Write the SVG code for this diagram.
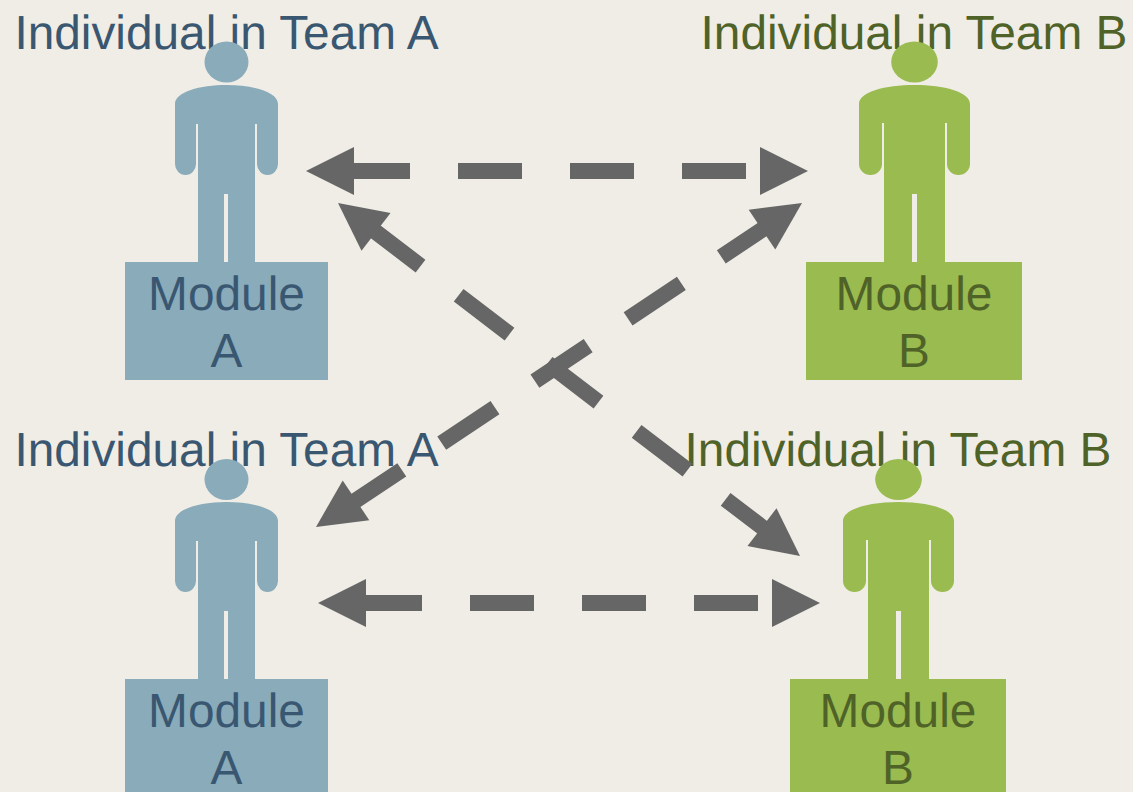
<svg xmlns="http://www.w3.org/2000/svg" width="1133" height="792" viewBox="0 0 1133 792">
<style>
text{font-family:"Liberation Sans",Arial,sans-serif;font-size:47.8px;text-anchor:middle;text-rendering:geometricPrecision;opacity:.999}
.b{fill:#89abba}.g{fill:#9abb4f}
.tb{fill:#3a5771}.tg{fill:#4f6228}
.s{fill:none;stroke:#666;stroke-width:16;stroke-dasharray:64 48}
.h{fill:#666}
</style>
<defs>
<path id="pa" d="M175 104C175 92 200 85 226.500 85C253 85 278 92 278 104V164A10.500 11 0 0 1 257 164V124H255V262H228V194H224V262H198V124H196V164A10.500 11 0 0 1 175 164Z"/>
<path id="pb" d="M859 104C859 92 885 85 914.500 85C944 85 970 92 970 104V164A11.500 11 0 0 1 947 164V123H945V262H917V194H912V262H884V123H882V164A11.500 11 0 0 1 859 164Z"/>
</defs>
<rect width="1133" height="792" fill="#f0ede6"/>
<g id="node-a1">
<text class="tb" x="226.500" y="49">Individual in Team A</text>
<ellipse class="b" cx="226.500" cy="62" rx="22" ry="20.500"/>
<use href="#pa" class="b"/>
<rect class="b" x="125" y="262" width="203" height="118"/>
<text class="tb" x="226.500" y="310">Module</text>
<text class="tb" x="226.500" y="367">A</text>
</g>
<g id="node-b1">
<text class="tg" x="914" y="49">Individual in Team B</text>
<ellipse class="g" cx="914.500" cy="62" rx="23.300" ry="20.500"/>
<use href="#pb" class="g"/>
<rect class="g" x="806" y="262" width="216" height="118"/>
<text class="tg" x="914" y="310">Module</text>
<text class="tg" x="914" y="367">B</text>
</g>
<g id="node-a2">
<text class="tb" x="226.500" y="466">Individual in Team A</text>
<ellipse class="b" cx="226.500" cy="479.500" rx="22" ry="20.500"/>
<use href="#pa" class="b" y="417"/>
<rect class="b" x="125" y="679" width="203" height="118"/>
<text class="tb" x="226.500" y="727">Module</text>
<text class="tb" x="226.500" y="784">A</text>
</g>
<g id="node-b2">
<text class="tg" x="898" y="466">Individual in Team B</text>
<ellipse class="g" cx="898.500" cy="479.500" rx="23.300" ry="20.500"/>
<use href="#pb" class="g" x="-16" y="417"/>
<rect class="g" x="790" y="679" width="216" height="118"/>
<text class="tg" x="898" y="727">Module</text>
<text class="tg" x="898" y="784">B</text>
</g>
<g id="connectors">
<line class="s" x1="353" y1="171" x2="761" y2="171" stroke-dashoffset="7"/>
<polygon class="h" points="306,171 354,147 354,195"/>
<polygon class="h" points="808,171 760,147 760,195"/>
<line class="s" x1="365" y1="603" x2="773" y2="603" stroke-dashoffset="7"/>
<polygon class="h" points="318,603 366,579 366,627"/>
<polygon class="h" points="820,603 772,579 772,627"/>
<line class="s" x1="375.400" y1="231.600" x2="762.500" y2="527.500" stroke-dashoffset="7.200"/>
<polygon class="h" points="338,203 390.500,213 361.500,250.700"/>
<polygon class="h" points="800,556 747.500,546 776.500,508.300"/>
<line class="s" x1="762.900" y1="229.100" x2="355.200" y2="500.900" stroke-dashoffset="14"/>
<polygon class="h" points="802,203 775.300,249.600 748.700,209.700"/>
<polygon class="h" points="316,527 342.700,480.400 369.300,520.300"/>
</g>
</svg>
